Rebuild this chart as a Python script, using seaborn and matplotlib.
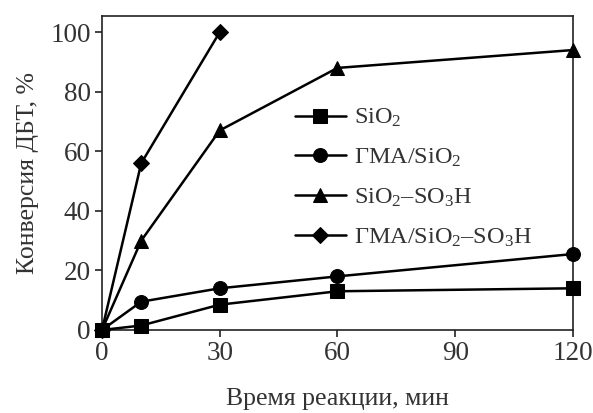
import numpy as np
import pandas as pd
from matplotlib import pyplot as plt
import seaborn as sns

# time, min
t_sio2 = [0, 10, 30, 60, 120]
t_gma = [0, 10, 30, 60, 120]
t_so3h = [0, 10, 30, 60, 120]
t_gma_so3h = [0, 10, 30]

# DBT conversion, %
conv_sio2 = [0, 1.5, 8.5, 13, 14]
conv_gma = [0, 9.5, 14, 18, 25.5]
conv_so3h = [0, 30, 67, 88, 94]
conv_gma_so3h = [0, 56, 100]

labels = ['SiO$_2$', 'ГМА/SiO$_2$', 'SiO$_2$–SO$_3$H', 'ГМА/SiO$_2$–SO$_3$H']
x_ticks = [0, 30, 60, 90, 120]
y_ticks = [0, 20, 40, 60, 80, 100]

sns.set_style('ticks')
plt.rcParams['font.family'] = ['Liberation Serif', 'DejaVu Serif']
plt.rcParams['mathtext.fontset'] = 'custom'
plt.rcParams['mathtext.rm'] = 'Liberation Serif'
plt.rcParams['mathtext.it'] = 'Liberation Serif:italic'

fig = plt.figure(figsize=(5.93, 4.13), dpi=100)
ax = fig.add_axes([0.172, 0.201, 0.794, 0.760])

series = [
    (t_sio2, conv_sio2, 's', 10),
    (t_gma, conv_gma, 'o', 10),
    (t_so3h, conv_so3h, '^', 10.5),
    (t_gma_so3h, conv_gma_so3h, 'D', 8.5),
]
for (tx, cy, mk, ms), lab in zip(series, labels):
    df = pd.DataFrame({'t': tx, 'c': cy})
    sns.lineplot(data=df, x='t', y='c', ax=ax, color='black', lw=1.8,
                 marker=mk, markersize=ms, markeredgecolor='black',
                 label=lab, clip_on=False, zorder=3)

ax.set_xlim(0, 120)
ax.set_ylim(0, 105.4)
ax.set_xticks(x_ticks)
ax.set_yticks(y_ticks)
ax.tick_params(labelsize=19.5, direction='out', length=5, width=1.2,
               colors='#222222', labelcolor='#333333', pad=3)
for s in ax.spines.values():
    s.set_linewidth(1.2)
    s.set_color('#222222')
    s.set_visible(True)

ax.set_xlabel('Время реакции, мин', fontsize=18.5, color='#333333', labelpad=16)
ax.set_ylabel('Конверсия ДБТ, %', fontsize=18.5, color='#333333', labelpad=8)

leg = ax.legend(loc='upper left', bbox_to_anchor=(0.363, 0.78), frameon=False,
                fontsize=17.5, handlelength=2.1, handletextpad=0.35,
                labelspacing=0.72, labelcolor='#333333')

plt.savefig('out.png', dpi=100)
